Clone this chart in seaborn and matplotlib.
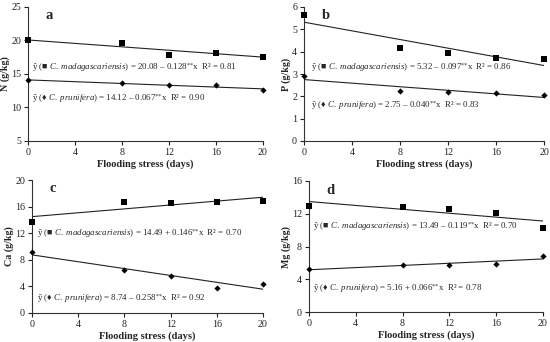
import numpy as np
import pandas as pd
import matplotlib
matplotlib.use("Agg")
import matplotlib.pyplot as plt
import seaborn as sns

# Days of flooding stress
days = [0, 8, 12, 16, 20]

# Measured values (g/kg) for each nutrient and species
n_mad = [20.0, 19.6, 17.8, 18.1, 17.6]
n_pru = [14.1, 13.7, 13.3, 13.3, 12.6]
p_mad = [5.62, 4.18, 3.95, 3.72, 3.67]
p_pru = [2.92, 2.25, 2.20, 2.15, 2.07]
ca_mad = [13.7, 16.7, 16.5, 16.7, 16.9]
ca_pru = [9.1, 6.4, 5.5, 3.8, 4.3]
mg_mad = [13.0, 12.8, 12.6, 12.1, 10.3]
mg_pru = [5.3, 5.7, 5.8, 5.9, 6.8]

# Fitted regressions (intercept, slope, R2)
n_fit = [(20.08, -0.128, 0.81), (14.12, -0.067, 0.90)]
p_fit = [(5.32, -0.097, 0.86), (2.75, -0.040, 0.83)]
ca_fit = [(14.49, 0.146, 0.70), (8.74, -0.258, 0.92)]
mg_fit = [(13.49, -0.119, 0.70), (5.16, 0.066, 0.78)]

sns.set_theme(style="ticks")
plt.rcParams["font.family"] = ["Liberation Serif", "DejaVu Sans"]
plt.rcParams["mathtext.fontset"] = "custom"
plt.rcParams["mathtext.rm"] = "Liberation Serif"
plt.rcParams["mathtext.it"] = "Liberation Serif:italic"
plt.rcParams["mathtext.bf"] = "Liberation Serif:bold"
plt.rcParams["axes.linewidth"] = 0.8
plt.rcParams["axes.edgecolor"] = "#333333"
plt.rcParams["xtick.major.size"] = 3
plt.rcParams["ytick.major.size"] = 3
plt.rcParams["xtick.major.width"] = 0.8
plt.rcParams["ytick.major.width"] = 0.8

fig = plt.figure(figsize=(5.5, 3.42), dpi=100)
W, H = 550, 342


def px_axes(x0, x1, y0, y1):
    return fig.add_axes([x0 / W, 1 - y1 / H, (x1 - x0) / W, (y1 - y0) / H])


panels = [
    dict(box=(28, 263, 7, 141), mad=n_mad, pru=n_pru, fit=n_fit, ylim=(5, 25),
         yticks=[5, 10, 15, 20, 25], ylabel="N (g/kg)", letter="a",
         txt=[(0.35, 16.0), (0.35, 11.3)], lety=23.7),
    dict(box=(304, 544, 7, 141), mad=p_mad, pru=p_pru, fit=p_fit, ylim=(0, 6),
         yticks=[0, 1, 2, 3, 4, 5, 6], ylabel="P (g/kg)", letter="b",
         txt=[(0.6, 3.3), (0.6, 1.6)], lety=5.6),
    dict(box=(32, 263, 180, 313), mad=ca_mad, pru=ca_pru, fit=ca_fit, ylim=(0, 20),
         yticks=[0, 4, 8, 12, 16, 20], ylabel="Ca (g/kg)", letter="c",
         txt=[(0.4, 11.9), (0.4, 2.25)], lety=18.7),
    dict(box=(309, 543, 181, 312), mad=mg_mad, pru=mg_pru, fit=mg_fit, ylim=(0, 16),
         yticks=[0, 4, 8, 12, 16], ylabel="Mg (g/kg)", letter="d",
         txt=[(0.35, 10.4), (0.35, 2.9)], lety=14.9),
]

names = [r"$\mathit{C.\ madagascariensis}$", r"$\mathit{C.\ prunifera}$"]
symbols = ["\u25a0", "\u2666"]

for pn in panels:
    ax = px_axes(*pn["box"])
    xs = np.array([0, 20])
    for i, (vals, marker, ms) in enumerate([(pn["mad"], "s", 22), (pn["pru"], "D", 10)]):
        a, b, r2 = pn["fit"][i]
        sns.lineplot(x=xs, y=a + b * xs, ax=ax, color="#222222", linewidth=0.8)
        sns.scatterplot(x=days, y=vals, ax=ax, marker=marker, s=ms, color="black",
                        edgecolor="black", linewidth=0, clip_on=False, zorder=5)
        sign = "+" if b >= 0 else "\u2013"
        label = (f"\u0177 ({symbols[i]} {names[i]}) = {a:.2f} {sign} {abs(b):.3f}"
                 + r"$^{{*}{*}}$" + f"x  R\u00b2 = {r2:.2f}")
        tx, ty = pn["txt"][i]
        ax.text(tx, ty, label, fontsize=6.4, va="center", ha="left")
    ax.set_xlim(0, 20)
    ax.set_ylim(*pn["ylim"])
    ax.set_xticks([0, 4, 8, 12, 16, 20])
    ax.set_yticks(pn["yticks"])
    ax.tick_params(labelsize=7.2, pad=2, colors="#222222")
    ax.set_xlabel("Flooding stress (days)", fontsize=7.5, fontweight="bold", labelpad=2)
    ax.set_ylabel(pn["ylabel"], fontsize=7.2, fontweight="bold", labelpad=1)
    ax.text(1.8, pn["lety"], pn["letter"], fontsize=10.5, fontweight="bold",
            va="center", ha="center")
    sns.despine(ax=ax)

fig.savefig("out.png", dpi=100)
